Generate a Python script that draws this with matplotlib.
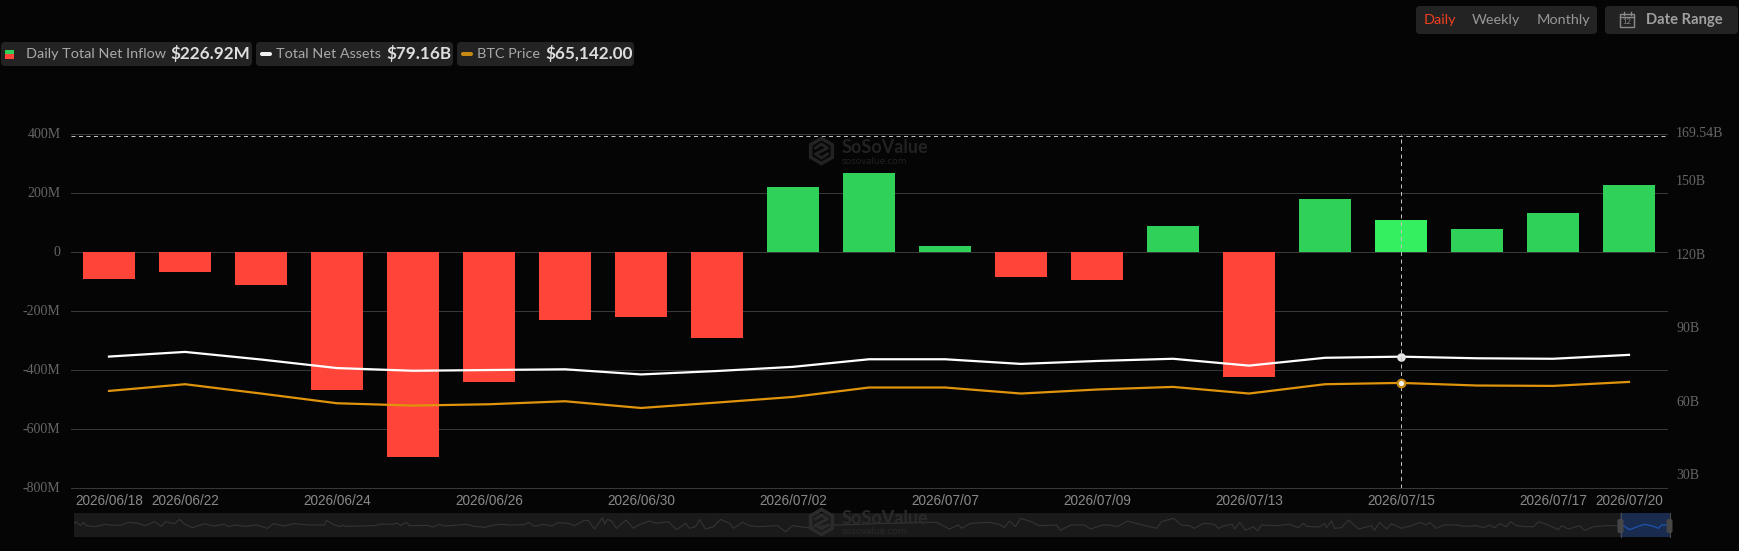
"""
Spot BTC ETF flow dashboard: daily net inflow bars, total net assets and BTC
price lines, with the overview strip and the toolbar chips around them.
"""

import matplotlib

matplotlib.use("Agg")
import matplotlib.pyplot as plt
from matplotlib.patches import FancyBboxPatch, Rectangle, RegularPolygon
from matplotlib.transforms import ScaledTranslation

W, H = 1739, 551
BG = "#050505"
GRID = "#383838"
CHIP = "#232323"
GREEN = "#30d158"
GREEN_HOVER = "#34ef5f"
RED = "#ff453a"
ORANGE = "#e0940c"

# -------------------------------------------------------------------
# Data
# -------------------------------------------------------------------
dates = [
    "2026/06/18", "2026/06/22", "2026/06/23", "2026/06/24", "2026/06/25",
    "2026/06/26", "2026/06/29", "2026/06/30", "2026/07/01", "2026/07/02",
    "2026/07/06", "2026/07/07", "2026/07/08", "2026/07/09", "2026/07/10",
    "2026/07/13", "2026/07/14", "2026/07/15", "2026/07/16", "2026/07/17",
    "2026/07/20",
]
net_inflow_m = [
    -90, -66, -113, -469, -696, -442, -230, -222, -293, 223, 268,
    21, -85, -94, 90, -423, 182, 108, 80, 132, 226.92,
]
net_assets_b = [
    79.2, 81.1, 78.0, 74.5, 73.4, 73.7, 74.0, 71.9, 73.3, 75.0, 78.1,
    78.1, 76.2, 77.4, 78.3, 75.5, 78.7, 79.16, 78.5, 78.3, 79.9,
]
btc_price = [
    61850, 64600, 60780, 56790, 55840, 56380, 57610, 54850, 57080, 59380, 63250,
    63250, 60780, 62430, 63500, 60780, 64600, 65142, 64070, 63910, 65550,
]
labelled_dates = [
    "2026/06/18", "2026/06/22", "2026/06/24", "2026/06/26", "2026/06/30",
    "2026/07/02", "2026/07/07", "2026/07/09", "2026/07/13", "2026/07/15",
    "2026/07/17", "2026/07/20",
]
hover_date = "2026/07/15"

inflow_ticks = [400, 200, 0, -200, -400, -600, -800]
inflow_tick_labels = ["400M", "200M", "0", "-200M", "-400M", "-600M", "-800M"]
assets_ticks = [30, 60, 90, 120, 150, 169.54]
assets_tick_labels = ["30B", "60B", "90B", "120B", "150B", "169.54B"]

# long-range overview strip: sample position and relative level
overview_days = [
    0, 2.5, 7, 10, 13, 22, 31, 40, 49, 54, 63, 72, 81, 88, 92, 101, 106, 111,
    119, 131, 140, 151, 155, 161, 172, 183, 194, 200, 211, 220, 236, 251, 253,
    261, 267, 269, 272, 286, 301, 308, 319, 324, 327, 333, 336, 354, 360, 366,
    370, 376, 394, 401, 411, 420, 429, 437, 451, 455, 461, 470, 479, 484, 495,
    501, 511, 515, 521, 529, 531, 534, 538, 543,
    552.5, 560, 565, 576, 583, 595, 603, 606, 612, 616, 622, 626, 632, 640,
    647, 656, 660, 669, 676, 685, 704, 712, 719, 733, 751, 765, 786, 808, 822,
    840, 851, 863, 876, 885, 888, 897, 915, 926, 931, 936, 942, 947, 958, 965,
    983, 987, 997, 1011, 1017, 1029, 1036, 1044, 1054, 1069, 1083, 1088,
    1100, 1108, 1116, 1121, 1130, 1141, 1145, 1151, 1159, 1161, 1166, 1172,
    1180, 1184, 1188, 1203, 1216, 1225, 1230, 1233, 1246, 1251, 1253, 1258,
    1261, 1268, 1275, 1285, 1298, 1301, 1306, 1313, 1318, 1328, 1338, 1346,
    1353, 1356, 1363, 1370, 1383, 1391, 1403, 1410, 1416, 1421, 1426, 1433,
    1437, 1443, 1451, 1460, 1465, 1473, 1485, 1488, 1495, 1506, 1511, 1520,
    1533, 1545, 1550, 1556, 1563, 1571, 1580, 1585, 1588, 1595,
]
overview_level = [
    38, 46, 34, 44, 34, 31, 38, 35, 36, 44, 42, 34, 46, 32, 46, 40, 53, 39,
    28, 40, 33, 38, 31, 36, 32, 36, 26, 40, 33, 40, 36, 36, 50,
    36, 31, 36, 32, 33, 34, 39, 38, 42, 34, 44, 34, 35, 30, 38,
    33, 34, 38, 32, 29, 36, 38, 36, 37, 44, 32, 38, 33, 43, 41,
    34, 50, 49, 24, 58, 38, 53, 48, 26,
    51, 26, 36, 48, 41, 46, 22, 28, 41, 26, 31, 52, 24, 31,
    53, 41, 26, 44, 34, 31, 34, 16, 34, 28, 34, 36, 38, 41, 41,
    44, 44, 44, 24, 36, 26, 41, 44, 38, 28, 48, 31, 56, 46, 34,
    36, 20, 36, 36, 24, 36, 36, 31, 48, 36, 26, 46,
    56, 36, 34, 26, 41, 38, 26, 34, 38, 24, 44, 20,
    31, 18, 36, 34, 38, 28, 41, 32, 30, 41, 28, 48,
    26, 28, 51, 24, 34, 20, 44, 24, 40, 26, 34, 44,
    36, 44, 26, 36, 36, 32, 34, 28, 36, 28, 40, 31,
    46, 34, 31, 31, 46, 38, 22, 34, 24, 34, 20, 31,
    34, 34, 34, 22, 30, 38, 32, 26, 36, 36,
]
selection_start_day = 1546


def px_axes(fig, left, top, right, bottom):
    """Adds an axes placed by its pixel edges (origin at the top left)."""
    return fig.add_axes([left / W, 1 - bottom / H, (right - left) / W, (bottom - top) / H])


def chip(ax, x0, y0, x1, y1, color=CHIP, radius=4):
    ax.add_patch(
        FancyBboxPatch(
            (x0 + radius, y0 + radius), x1 - x0 - 2 * radius, y1 - y0 - 2 * radius,
            boxstyle=f"round,pad={radius},rounding_size={radius}",
            facecolor=color, edgecolor="none",
        )
    )


def watermark(ax, x, y_logo, y_name, y_site, color):
    """The hexagon mark with the brand name and site underneath."""
    ax.add_patch(RegularPolygon((x, y_logo), 6, radius=12.5, facecolor="none",
                                edgecolor=color, linewidth=2.6))
    ax.plot([x - 6, x, x + 6, x, x - 6, x, x + 6],
            [y_logo - 3, y_logo - 7, y_logo - 3, y_logo, y_logo + 3, y_logo + 7, y_logo + 3],
            color=color, linewidth=2.2)
    ax.text(x + 20.5, y_name, "SoSoValue", family="Lato", weight="bold", fontsize=13,
            color=color, va="center", ha="left")
    ax.text(x + 20.5, y_site, "sosovalue.com", family="Open Sans", fontsize=6.8,
            color=color, va="center", ha="left")


fig = plt.figure(figsize=(W / 100, H / 100), dpi=100, facecolor=BG)

# -------------------------------------------------------------------
# Main panel
# -------------------------------------------------------------------
ax = px_axes(fig, 71, 134.5, 1667, 487.5)
ax.set_facecolor("none")
positions = list(range(len(dates)))
hover = dates.index(hover_date)

bar_colors = []
for i, value in enumerate(net_inflow_m):
    if i == hover:
        bar_colors.append(GREEN_HOVER)
    else:
        bar_colors.append(GREEN if value >= 0 else RED)
ax.bar(positions, net_inflow_m, width=0.69, color=bar_colors, zorder=3)

ax.set_xlim(-0.5, len(dates) - 0.5)
ax.set_ylim(-800, 400)
ax.set_yticks(inflow_ticks)
ax.set_yticklabels(inflow_tick_labels, family="Liberation Serif", fontsize=10, color="#666666")
ax.set_xticks([dates.index(d) for d in labelled_dates])
ax.set_xticklabels(labelled_dates, family="Liberation Sans", fontsize=9.8, color="#8a8a8a")
ax.tick_params(axis="both", length=0)
ax.tick_params(axis="y", pad=7.5)
ax.tick_params(axis="x", pad=4.6)
ax.grid(axis="y", color=GRID, linewidth=0.72, zorder=0)
ax.set_axisbelow(True)
for line in ax.get_ygridlines():
    line.set_clip_on(False)
for spine in ax.spines.values():
    spine.set_visible(False)
for label in ax.get_yticklabels():
    label.set_transform(label.get_transform() + ScaledTranslation(0, 1 / 100, fig.dpi_scale_trans))

ax_assets = ax.twinx()
ax_assets.set_ylim(25.7, 169.94)
ax_assets.set_yticks(assets_ticks)
ax_assets.set_yticklabels(assets_tick_labels, family="Liberation Serif", fontsize=10, color="#666666")
ax_assets.tick_params(axis="y", length=0, pad=6.5)
for spine in ax_assets.spines.values():
    spine.set_visible(False)
for label in ax_assets.get_yticklabels():
    label.set_transform(label.get_transform() + ScaledTranslation(0, 3 / 100, fig.dpi_scale_trans))
ax_assets.plot(positions, net_assets_b, color="#ffffff", linewidth=1.6, zorder=4)

# the price scale is not labelled
ax_btc = ax.twinx()
ax_btc.set_ylim(22222, 167072)
ax_btc.set_yticks([])
for spine in ax_btc.spines.values():
    spine.set_visible(False)
ax_btc.plot(positions, btc_price, color=ORANGE, linewidth=1.6, zorder=4)

# crosshair on the hovered day
ax_btc.axvline(hover, color="#c0c0c0", linewidth=0.72, linestyle=(0, (4, 3.5)), zorder=5)
ax.axhline(395.5, color="#c0c0c0", linewidth=0.72, linestyle=(0, (4, 3.5)), zorder=5)
ax_assets.plot([hover], [net_assets_b[hover]], "o", color="#e4e4e4", markersize=6.2,
               markeredgewidth=0, zorder=6)
ax_btc.plot([hover], [btc_price[hover]], "o", markerfacecolor="#f4f4f4", markeredgecolor="#c98a12",
            markersize=5.4, markeredgewidth=1.6, zorder=6)

# -------------------------------------------------------------------
# Overview strip
# -------------------------------------------------------------------
ax_over = px_axes(fig, 73.5, 513, 1670.5, 537)
ax_over.set_facecolor("#1a1a1a")
ax_over.set_xlim(0, 1597)
ax_over.set_ylim(0, 72)
ax_over.set_xticks([])
ax_over.set_yticks([])
for spine in ax_over.spines.values():
    spine.set_visible(False)

ax_over.axvspan(selection_start_day, 1597, color="#1a2b50", linewidth=0)
early_days = [d for d in overview_days if d <= selection_start_day]
ax_over.plot(early_days, overview_level[: len(early_days)], color="#343434", linewidth=0.8)
ax_over.plot(overview_days[len(early_days) - 1:], overview_level[len(early_days) - 1:],
             color="#1f58b8", linewidth=0.8)

# -------------------------------------------------------------------
# Toolbar chips, legend chips, watermarks
# -------------------------------------------------------------------
ui = fig.add_axes([0, 0, 1, 1], facecolor="none")
ui.set_xlim(0, W)
ui.set_ylim(H, 0)
ui.axis("off")

TXT = "#a9a9a9"
VAL = "#dedede"

chip(ui, 1, 42, 252, 66)
ui.add_patch(Rectangle((5, 50), 8.5, 4, facecolor=GREEN, edgecolor="none"))
ui.add_patch(Rectangle((5, 54), 8.5, 4.5, facecolor=RED, edgecolor="none"))
ui.text(25.5, 54, "Daily Total Net Inflow", family="Lato", fontsize=10.4, color=TXT, va="center")
ui.text(170.5, 54, "$226.92M", family="Lato", weight="bold", fontsize=12.3, color=VAL, va="center")

chip(ui, 256, 42, 453, 66)
chip(ui, 260, 52, 272, 56, color="#f0f0f0", radius=2)
ui.text(276, 54, "Total Net Assets", family="Lato", fontsize=10.4, color=TXT, va="center")
ui.text(386, 54, "$79.16B", family="Lato", weight="bold", fontsize=12.3, color=VAL, va="center")

chip(ui, 457, 42, 634, 66)
chip(ui, 461, 52, 473, 56, color="#c68a10", radius=2)
ui.text(477, 54, "BTC Price", family="Lato", fontsize=10.4, color=TXT, va="center")
ui.text(545.5, 54, "$65,142.00", family="Lato", weight="bold", fontsize=12.3, color=VAL, va="center")

chip(ui, 1416, 6, 1597, 34)
ui.text(1424, 20, "Daily", family="Lato", fontsize=10.4, color="#f0401f", va="center")
ui.text(1472, 20, "Weekly", family="Lato", fontsize=10.4, color="#979797", va="center")
ui.text(1537, 20, "Monthly", family="Lato", fontsize=10.4, color="#979797", va="center")

chip(ui, 1605, 6, 1738, 34)
ui.add_patch(Rectangle((1620, 13.5), 14, 13, facecolor="none", edgecolor="#8a8a8a", linewidth=1))
ui.plot([1620, 1634], [17, 17], color="#8a8a8a", linewidth=1)
ui.plot([1623.5, 1623.5], [12, 15], color="#8a8a8a", linewidth=1)
ui.plot([1630.5, 1630.5], [12, 15], color="#8a8a8a", linewidth=1)
ui.text(1627, 22, "12", family="Lato", fontsize=5.5, color="#8a8a8a", ha="center", va="center")
ui.text(1646, 20, "Date Range", family="Lato", weight="bold", fontsize=10.6, color="#a0a0a0", va="center")

watermark(ui, 821.5, 151, 147.5, 161, "#222222")
watermark(ui, 821.5, 522, 518.5, 531.5, "#2b2b2b")

# selection handles on the overview strip
for handle_x in (1620.5, 1669.5):
    ui.plot([handle_x, handle_x], [513, 537], color="#4a4a4a", linewidth=0.8)
    chip(ui, handle_x - 3, 519, handle_x + 3, 533, color="#454545", radius=2)

fig.savefig("out.png", dpi=100, facecolor=BG)
